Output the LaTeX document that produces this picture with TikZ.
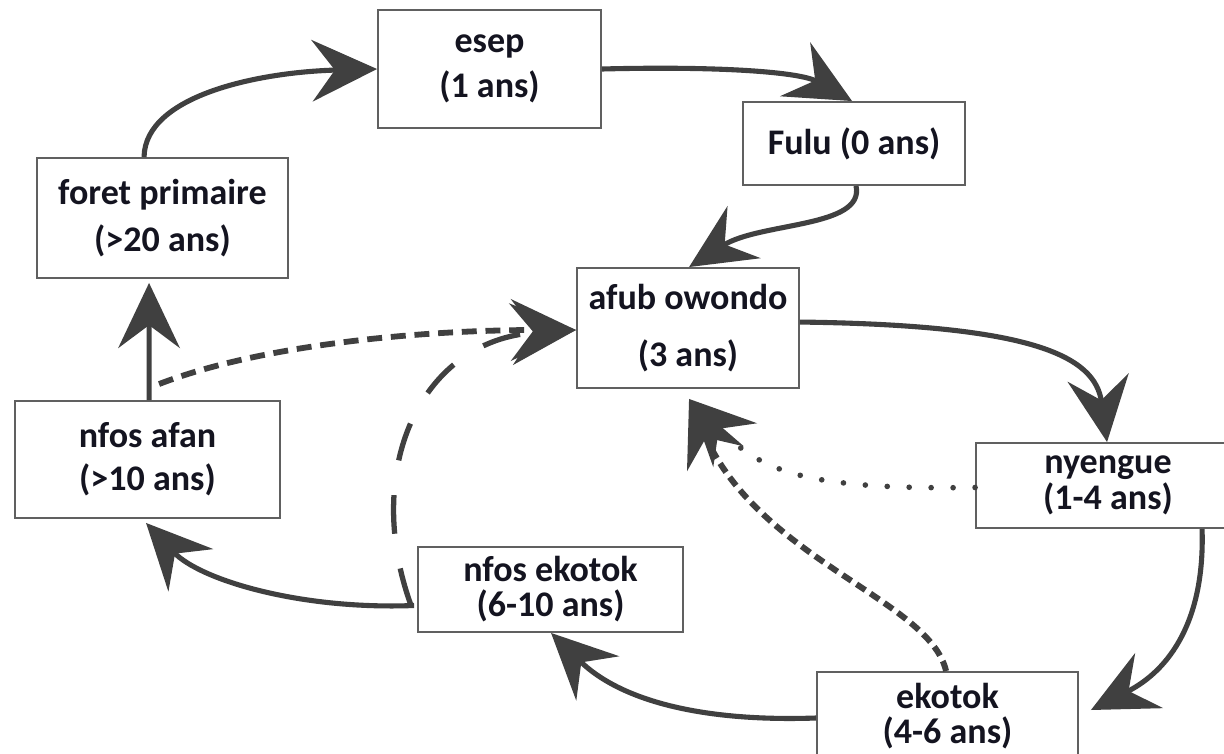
\documentclass[tikz,border=0pt]{standalone}
\usepackage{fontspec}
\setmainfont{Carlito}
\usetikzlibrary{arrows.meta,calc}
\definecolor{arrowgray}{HTML}{404040}
\definecolor{boxgray}{HTML}{606060}
\definecolor{txt}{HTML}{141420}
\tikzset{
  box/.style={draw=boxgray, line width=1.1pt, fill=white, inner sep=0pt, align=center, text=txt},
  fs/.style={font=\fontsize{20.5}{#1}\selectfont\bfseries},
  bigtip/.style={-{Stealth[length=37pt,width=35pt,inset=13pt]}},
  flow/.style={draw=arrowgray, line width=2.9pt, bigtip},
  densedot/.style={draw=arrowgray, line width=3.3pt, dash pattern=on 8.5pt off 5pt, bigtip},
  longdash/.style={draw=arrowgray, line width=3pt, dash pattern=on 22pt off 20pt, bigtip},
  rounddot/.style={draw=arrowgray, line width=3.2pt, line cap=round, dash pattern=on 0pt off 12.5pt, bigtip},
  crossdash/.style={draw=arrowgray, line width=3.4pt, dash pattern=on 6pt off 3.5pt, bigtip}
}
\begin{document}
\lineskiplimit=-100pt\relax
\lineskip=0pt\relax
\begin{tikzpicture}[x=0.02cm,y=-0.02cm]
\useasboundingbox (0,0) rectangle (1224,754);
\clip (0,0) rectangle (1224,754);
\fill[white] (0,0) rectangle (1224,754);

\node[box, fs=25.5, minimum width=4.46cm, minimum height=2.36cm] (esep) at (489.5,69) {esep\\(1 ans)};
\node[box, fs=24, minimum width=4.44cm, minimum height=1.66cm] (fulu) at (854,143.5) {Fulu (0 ans)};
\node[box, fs=27.2, minimum width=5.02cm, minimum height=2.4cm] (foret) at (162.5,218) {foret primaire\\(>20 ans)};
\node[box, fs=32.3, minimum width=4.44cm, minimum height=2.4cm] (afub) at (688,328) {afub owondo\\(3 ans)};
\node[box, fs=24.4, minimum width=5.3cm, minimum height=2.34cm] (nfosafan) at (147.5,459.5) {nfos afan\\(>10 ans)};
\node[box, fs=20.5, minimum width=5.28cm, minimum height=1.7cm] (nyengue) at (1108,485.5) {nyengue\\(1-4 ans)};
\node[box, fs=20, minimum width=5.3cm, minimum height=1.7cm] (nfosek) at (550.5,589.5) {nfos ekotok\\(6-10 ans)};
\node[box, fs=20, minimum width=5.22cm, minimum height=1.76cm] (ekotok) at (947.5,716) {ekotok\\(4-6 ans)};

% main cycle
\draw[flow] ($(foret.north west)+(108,0)$) .. controls (145,95) and (260,72) .. (esep.west);
\draw[flow] (esep.east) .. controls (720,66) and (800,72) .. ($(fulu.north west)+(110,0)$);
\draw[flow] ($(fulu.south west)+(114,0)$) .. controls (865,228) and (760,222) .. ($(afub.north west)+(113,0)$);
\draw[flow] ($(afub.north east)+(0,55)$) .. controls (1030,325) and (1095,355) .. ($(nyengue.north west)+(132,0)$);
\draw[flow] ($(nyengue.south west)+(227,0)$) .. controls (1205,620) and (1170,670) .. ($(ekotok.east)+(12,-6)$);
\draw[flow] ($(ekotok.west)+(0,2)$) .. controls (700,722) and (620,700) .. ($(nfosek.south west)+(134,0)$);
\draw[flow] ($(nfosek.west)+(-3,16)$) .. controls (300,610) and (200,580) .. ($(nfosafan.south west)+(132,4)$);
\draw[flow] ($(nfosafan.north west)+(135,0)$) -- ($(foret.south west)+(113,4)$);

% shortcuts
\draw[densedot] ($(nfosafan.north west)+(145,-16)$) .. controls (260,345) and (420,330) .. ($(afub.west)+(0,2)$);
\draw[longdash] ($(nfosek.west)+(-6,16)$) .. controls (362,470) and (420,340) .. ($(afub.west)+(0,2)$);
\draw[rounddot] ($(nyengue.west)+(0,2)$) .. controls (800,490) and (760,470) .. ($(afub.south west)+(113,10)$);
\draw[crossdash] ($(ekotok.north west)+(130,0)$) .. controls (930,600) and (760,560) .. ($(afub.south west)+(113,10)$);
\end{tikzpicture}
\end{document}
